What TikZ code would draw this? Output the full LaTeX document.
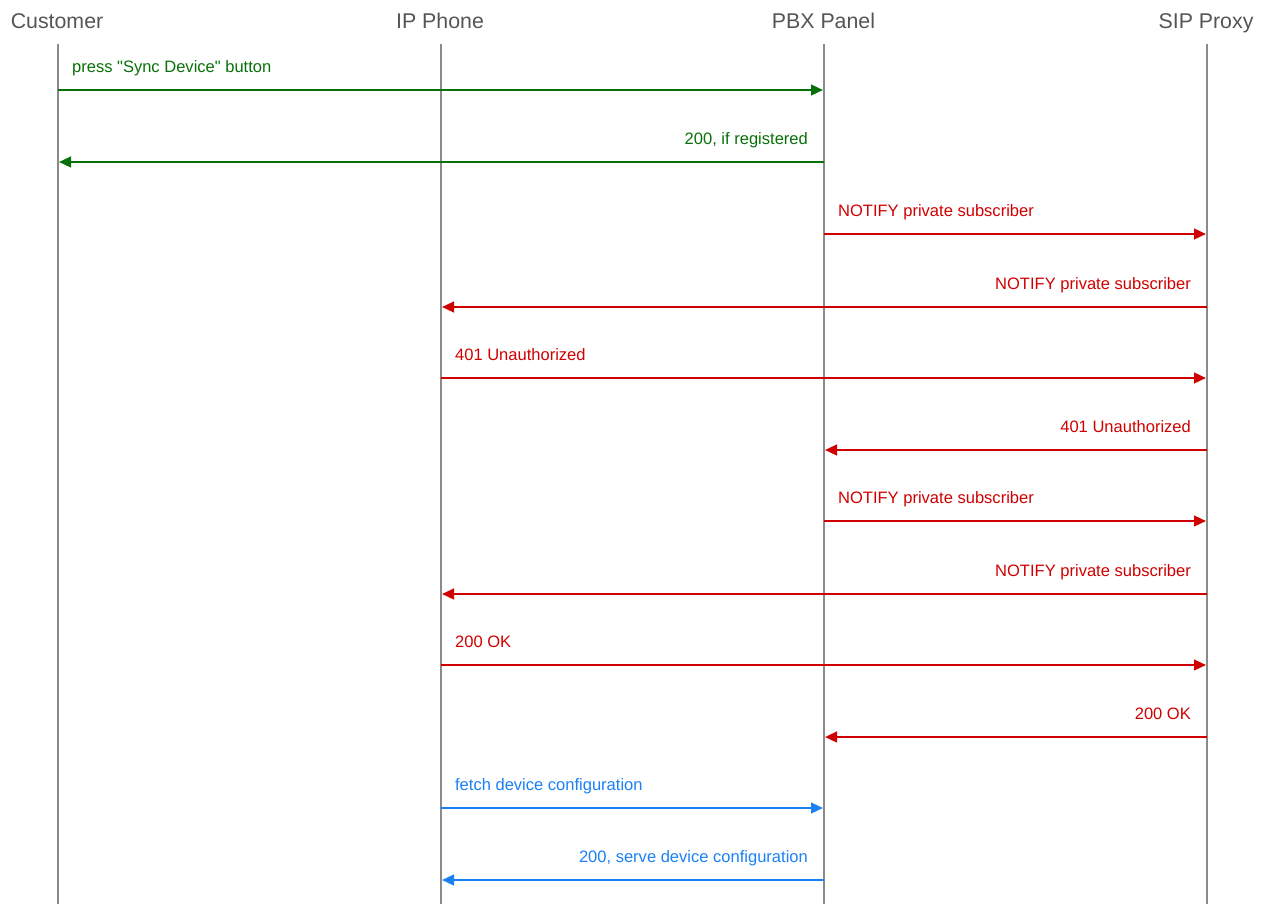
\documentclass[tikz,border=0pt]{standalone}
\usepackage{fontspec}
\setmainfont{Liberation Sans}
\usetikzlibrary{arrows.meta}
\definecolor{seqGray}{HTML}{8A8A8A}
\definecolor{seqText}{HTML}{555555}
\definecolor{seqGreen}{HTML}{087008}
\definecolor{seqRed}{HTML}{D00000}
\definecolor{seqBlue}{HTML}{1A80F5}

\begin{document}
\begin{tikzpicture}[x=0.75pt, y=-0.75pt,
  actor/.style={text=seqText, font=\fontsize{16}{19}\selectfont, inner sep=0pt, anchor=base},
  life/.style={draw=seqGray, line width=1.7pt},
  msg/.style={line width=1.7pt, shorten >=0.75pt, -{Triangle[length=9pt, width=8pt]}},
  lblr/.style={anchor=base west, xshift=9.75pt, yshift=13pt, inner sep=0pt,
    font=\fontsize{12.4}{15}\selectfont},
  lbll/.style={anchor=base east, xshift=-11.25pt, yshift=13pt, inner sep=0pt,
    font=\fontsize{12.4}{15}\selectfont}]
  \useasboundingbox (0,0) rectangle (1267,904);

  % participants
  \node[actor] (cust) at (57,28) {Customer};
  \node[actor] (phone) at (440,28) {IP Phone};
  \node[actor] (pbx) at (823.5,28) {PBX Panel};
  \node[actor] (proxy) at (1206,28) {SIP Proxy};

  % lifeline ends
  \coordinate (cuTop) at (58,44);   \coordinate (cuEnd) at (58,904);
  \coordinate (phTop) at (441,44);  \coordinate (phEnd) at (441,904);
  \coordinate (pbTop) at (824,44);  \coordinate (pbEnd) at (824,904);
  \coordinate (spTop) at (1207,44); \coordinate (spEnd) at (1207,904);
  \draw[life] (cuTop) -- (cuEnd);
  \draw[life] (phTop) -- (phEnd);
  \draw[life] (pbTop) -- (pbEnd);
  \draw[life] (spTop) -- (spEnd);

  % message rows on every lifeline
  \foreach \n/\y in {1/90, 2/162, 3/234, 4/307, 5/378, 6/450,
                     7/521, 8/594, 9/665, 10/737, 11/808, 12/880} {
    \coordinate (cu\n) at (58,\y);
    \coordinate (ph\n) at (441,\y);
    \coordinate (pb\n) at (824,\y);
    \coordinate (sp\n) at (1207,\y);
  }

  % sync request
  \draw[msg, seqGreen] (cu1) -- (pb1) node[lblr, pos=0] {press \textquotedbl Sync Device\textquotedbl\ button};
  \draw[msg, seqGreen] (pb2) -- (cu2) node[lbll, pos=0] {200, if registered};

  % first NOTIFY, challenged
  \draw[msg, seqRed] (pb3) -- (sp3) node[lblr, pos=0] {NOTIFY private subscriber};
  \draw[msg, seqRed] (sp4) -- (ph4) node[lbll, pos=0] {NOTIFY private subscriber};
  \draw[msg, seqRed] (ph5) -- (sp5) node[lblr, pos=0] {401 Unauthorized};
  \draw[msg, seqRed] (sp6) -- (pb6) node[lbll, pos=0] {401 Unauthorized};

  % second NOTIFY
  \draw[msg, seqRed] (pb7) -- (sp7) node[lblr, pos=0] {NOTIFY private subscriber};
  \draw[msg, seqRed] (sp8) -- (ph8) node[lbll, pos=0] {NOTIFY private subscriber};
  \draw[msg, seqRed] (ph9) -- (sp9) node[lblr, pos=0] {200 OK};
  \draw[msg, seqRed] (sp10) -- (pb10) node[lbll, pos=0] {200 OK};

  % provisioning
  \draw[msg, seqBlue] (ph11) -- (pb11) node[lblr, pos=0] {fetch device configuration};
  \draw[msg, seqBlue] (pb12) -- (ph12) node[lbll, pos=0] {200, serve device configuration};
\end{tikzpicture}
\end{document}
